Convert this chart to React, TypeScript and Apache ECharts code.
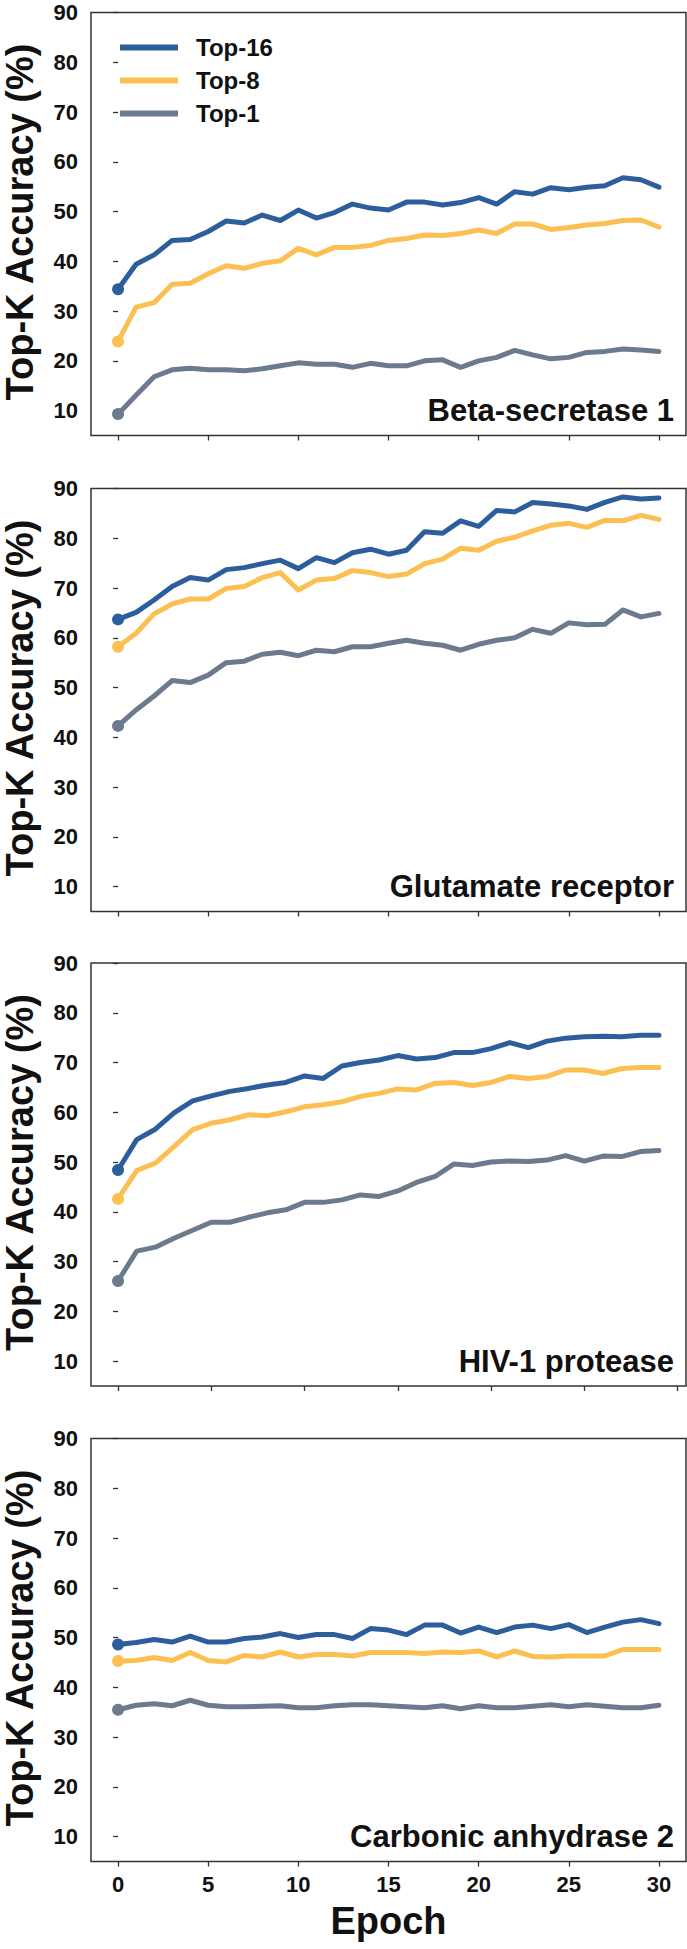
import React, { useEffect, useRef } from "react";
import * as echarts from "echarts";

// Top-K accuracy per epoch for four protein targets
const seriesNames = ["Top-16", "Top-8", "Top-1"];
const seriesColors = ["#2d5e9c", "#fcbf52", "#6b7a8c"];

const panelTitles = ["Beta-secretase 1", "Glutamate receptor", "HIV-1 protease", "Carbonic anhydrase 2"];

const epochTicks = [0, 5, 10, 15, 20, 25, 30];
const accuracyTicks = [10, 20, 30, 40, 50, 60, 70, 80, 90];

const baceTop16 = [34.4, 39.4, 41.3, 44.2, 44.4, 46.0, 48.1, 47.7, 49.3, 48.2, 50.3, 48.7, 49.8, 51.5, 50.7, 50.3, 51.9, 51.9, 51.3, 51.8, 52.8, 51.5, 54.0, 53.5, 54.8, 54.4, 54.9, 55.2, 56.8, 56.4, 54.9];
const baceTop8 = [23.9, 30.8, 31.7, 35.4, 35.6, 37.5, 39.1, 38.6, 39.6, 40.1, 42.6, 41.3, 42.8, 42.8, 43.2, 44.2, 44.6, 45.3, 45.2, 45.6, 46.3, 45.6, 47.5, 47.5, 46.4, 46.8, 47.3, 47.6, 48.2, 48.3, 46.9];
const baceTop1 = [9.3, 13.1, 16.8, 18.2, 18.5, 18.2, 18.2, 18.0, 18.4, 19.0, 19.6, 19.3, 19.3, 18.7, 19.5, 19.0, 19.0, 20.0, 20.2, 18.7, 20.0, 20.7, 22.1, 21.2, 20.4, 20.7, 21.7, 21.9, 22.4, 22.2, 21.9];

const gluTop16 = [63.7, 65.1, 67.6, 70.3, 72.1, 71.6, 73.7, 74.1, 74.9, 75.6, 73.9, 76.1, 75.1, 77.1, 77.8, 76.8, 77.6, 81.3, 81.0, 83.5, 82.4, 85.6, 85.3, 87.2, 86.9, 86.5, 85.8, 87.2, 88.3, 87.9, 88.1];
const gluTop8 = [58.2, 60.9, 64.8, 66.8, 67.8, 67.8, 69.9, 70.3, 72.1, 73.1, 69.6, 71.6, 71.9, 73.5, 73.1, 72.3, 72.8, 74.9, 75.8, 78.0, 77.6, 79.4, 80.2, 81.5, 82.6, 83.0, 82.2, 83.6, 83.5, 84.6, 83.8];
const gluTop1 = [42.3, 45.5, 48.3, 51.4, 51.0, 52.5, 55.0, 55.3, 56.7, 57.1, 56.4, 57.5, 57.2, 58.2, 58.2, 58.9, 59.5, 58.9, 58.5, 57.5, 58.7, 59.5, 60.0, 61.7, 60.9, 63.0, 62.6, 62.7, 65.6, 64.2, 64.9];

const hivTop16 = [48.4, 54.5, 56.6, 59.9, 62.3, 63.3, 64.2, 64.8, 65.5, 66.0, 67.3, 66.8, 69.3, 70.0, 70.5, 71.4, 70.7, 71.0, 72.0, 72.0, 72.8, 74.0, 73.0, 74.3, 74.9, 75.2, 75.3, 75.2, 75.5, 75.5];
const hivTop8 = [42.6, 48.3, 49.8, 53.1, 56.5, 57.8, 58.5, 59.5, 59.3, 60.1, 61.1, 61.5, 62.1, 63.2, 63.8, 64.7, 64.5, 65.8, 66.0, 65.4, 66.0, 67.2, 66.8, 67.2, 68.5, 68.5, 67.8, 68.8, 69.0, 69.0];
const hivTop1 = [26.1, 32.1, 32.9, 34.7, 36.3, 37.9, 37.9, 38.9, 39.8, 40.4, 41.9, 41.9, 42.4, 43.4, 43.1, 44.2, 45.9, 47.1, 49.6, 49.3, 50.0, 50.2, 50.1, 50.4, 51.3, 50.2, 51.2, 51.1, 52.1, 52.3];

const caTop16 = [48.6, 49.0, 49.6, 49.1, 50.3, 49.1, 49.1, 49.8, 50.1, 50.8, 50.0, 50.6, 50.6, 49.8, 51.8, 51.5, 50.6, 52.5, 52.5, 50.9, 52.1, 51.0, 52.1, 52.5, 51.8, 52.6, 51.0, 52.1, 53.1, 53.6, 52.8];
const caTop8 = [45.3, 45.4, 46.0, 45.4, 47.0, 45.4, 45.1, 46.4, 46.1, 47.1, 46.1, 46.6, 46.6, 46.3, 47.0, 47.0, 47.0, 46.8, 47.1, 47.0, 47.3, 46.1, 47.3, 46.2, 46.1, 46.3, 46.3, 46.3, 47.6, 47.6, 47.6];
const caTop1 = [35.5, 36.4, 36.7, 36.3, 37.4, 36.4, 36.1, 36.1, 36.2, 36.3, 35.9, 35.9, 36.3, 36.5, 36.5, 36.3, 36.1, 35.9, 36.3, 35.7, 36.3, 35.9, 35.9, 36.2, 36.5, 36.1, 36.5, 36.2, 35.9, 35.9, 36.4];

const panelData = [
  [baceTop16, baceTop8, baceTop1],
  [gluTop16, gluTop8, gluTop1],
  [hivTop16, hivTop8, hivTop1],
  [caTop16, caTop8, caTop1],
];

const FONT = "'Liberation Sans', Arial, Helvetica, sans-serif";
const INK = "#111111";
const FRAME = "#333333";
const W = 687;
const H = 1949;
const GRID_LEFT = 91;
const GRID_W = 595;
const GRID_H = 423;
const GRID_TOPS = [12.5, 488.5, 963, 1438.5];

function buildOption() {
  const grid: any[] = [];
  const xAxis: any[] = [];
  const yAxis: any[] = [];
  const series: any[] = [];
  const graphic: any[] = [];

  panelData.forEach((lines, p) => {
    const top = GRID_TOPS[p];
    const last = lines[0].length - 1;
    const pad = last * 0.05;
    const isBottom = p === panelData.length - 1;

    grid.push({
      left: GRID_LEFT,
      top,
      width: GRID_W,
      height: GRID_H,
      show: true,
      borderColor: FRAME,
      borderWidth: 1.5,
      backgroundColor: "transparent",
    });

    xAxis.push({
      type: "value",
      gridIndex: p,
      min: -pad,
      max: last + pad,
      axisLine: { show: false, onZero: false },
      axisTick: {
        show: true,
        length: 5,
        customValues: epochTicks,
        lineStyle: { color: FRAME, width: 1.3 },
      },
      axisLabel: {
        show: isBottom,
        customValues: epochTicks,
        margin: 12,
        fontFamily: FONT,
        fontWeight: "bold",
        fontSize: 22,
        color: INK,
      },
      splitLine: { show: false },
    });

    yAxis.push({
      type: "value",
      gridIndex: p,
      min: 5,
      max: 90,
      axisLine: { show: false },
      axisTick: {
        show: true,
        length: 5,
        customValues: accuracyTicks,
        lineStyle: { color: FRAME, width: 1.3 },
      },
      axisLabel: {
        customValues: accuracyTicks,
        margin: 13,
        fontFamily: FONT,
        fontWeight: "bold",
        fontSize: 22,
        color: INK,
      },
      splitLine: { show: false },
    });

    lines.forEach((vals, s) => {
      series.push({
        type: "line",
        name: seriesNames[s],
        xAxisIndex: p,
        yAxisIndex: p,
        symbol: "none",
        showSymbol: true,
        data: vals.map((v, k) =>
          k === 0 ? { value: [k, v], symbol: "circle", symbolSize: 12 } : [k, v]
        ),
        lineStyle: { color: seriesColors[s], width: 5, cap: "round", join: "round" },
        itemStyle: { color: seriesColors[s] },
        z: 10 - s,
      });
    });

    graphic.push({
      type: "text",
      x: 20,
      y: top + GRID_H / 2 - 2,
      rotation: Math.PI / 2,
      style: {
        text: "Top-K Accuracy (%)",
        fontFamily: FONT,
        fontWeight: "bold",
        fontSize: 38,
        fill: INK,
        align: "center",
        verticalAlign: "middle",
      },
    });

    graphic.push({
      type: "text",
      x: 674,
      y: top + GRID_H - 25,
      style: {
        text: panelTitles[p],
        fontFamily: FONT,
        fontWeight: "bold",
        fontSize: 31,
        fill: INK,
        align: "right",
        verticalAlign: "middle",
      },
    });
  });

  graphic.push({
    type: "text",
    x: GRID_LEFT + GRID_W / 2,
    y: 1921,
    style: {
      text: "Epoch",
      fontFamily: FONT,
      fontWeight: "bold",
      fontSize: 38,
      fill: INK,
      align: "center",
      verticalAlign: "middle",
    },
  });

  return {
    animation: false,
    backgroundColor: "#ffffff",
    grid,
    xAxis,
    yAxis,
    series,
    graphic,
    legend: {
      data: seriesNames,
      orient: "vertical",
      left: 115,
      top: 30.5,
      icon: "rect",
      itemWidth: 58,
      itemHeight: 6,
      itemGap: 9,
      selectedMode: false,
      textStyle: {
        fontFamily: FONT,
        fontWeight: "bold",
        fontSize: 24,
        lineHeight: 24,
        color: INK,
        padding: [0, 0, 0, 13],
      },
    },
  };
}

export default function App() {
  const ref = useRef<HTMLDivElement>(null);

  useEffect(() => {
    document.body.style.margin = "0";
    if (!ref.current) return;
    const chart = echarts.init(ref.current, undefined, { renderer: "svg" });
    chart.setOption(buildOption());
    return () => {
      chart.dispose();
    };
  }, []);

  return <div ref={ref} style={{ width: W, height: H }} />;
}
